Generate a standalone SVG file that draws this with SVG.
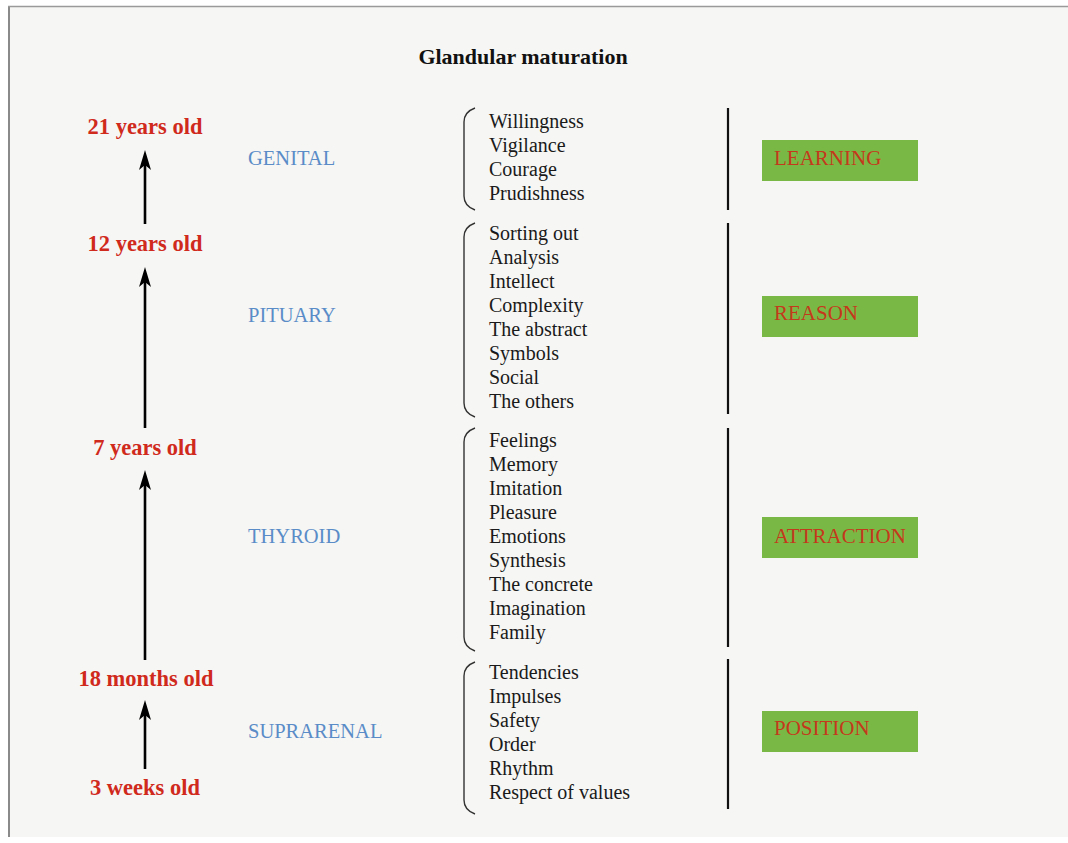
<svg xmlns="http://www.w3.org/2000/svg" width="1068" height="843" viewBox="0 0 1068 843">
<defs>
<style>
.page{fill:#f6f6f4}
.title{font-family:"Liberation Serif",serif;font-weight:bold;font-size:22px;fill:#111}
.age{font-family:"Liberation Serif",serif;font-weight:bold;font-size:22.5px;fill:#d02a1c;text-anchor:middle}
.gland{font-family:"Liberation Serif",serif;font-size:20.5px;fill:#5a8cc8}
.item{font-family:"Liberation Serif",serif;font-size:20px;fill:#1a1a1a}
.brk{fill:none;stroke:#333;stroke-width:1.4}
.vline{stroke:#111;stroke-width:2.2}
.box{fill:#7ab845}
.boxtxt{font-family:"Liberation Serif",serif;font-size:21px;fill:#c4381c}
.arr{stroke:#000;stroke-width:2.6;fill:none}
</style>
<marker id="ah" viewBox="0 0 20 12" refX="10" refY="6" markerWidth="20" markerHeight="12" markerUnits="userSpaceOnUse" orient="auto">
<path d="M0,0 L20,6 L0,12 L5,6 z" fill="#000"/>
</marker>
</defs>
<rect x="0" y="0" width="1068" height="843" fill="#ffffff"/>
<rect class="page" x="9" y="7" width="1059" height="830"/>
<line x1="9" y1="6" x2="9" y2="837" stroke="#8a8a8a" stroke-width="2"/>
<line x1="8" y1="6.5" x2="1068" y2="6.5" stroke="#9a9a9a" stroke-width="1.5"/>

<text class="title" x="523" y="64" text-anchor="middle" font-family="'Liberation Serif', serif">Glandular maturation</text>

<g id="connectors">
<line class="arr" x1="145" y1="224" x2="145" y2="160" marker-end="url(#ah)"/>
<line class="arr" x1="145" y1="428" x2="145" y2="277" marker-end="url(#ah)"/>
<line class="arr" x1="145" y1="660" x2="145" y2="480" marker-end="url(#ah)"/>
<line class="arr" x1="145" y1="769" x2="145" y2="710" marker-end="url(#ah)"/>
</g>

<g id="ages">
<text class="age" x="145" y="134">21 years old</text>
<text class="age" x="145" y="251">12 years old</text>
<text class="age" x="145" y="455">7 years old</text>
<text class="age" x="146" y="686">18 months old</text>
<text class="age" x="145" y="795">3 weeks old</text>
</g>

<g id="genital">
<text class="gland" x="248" y="165">GENITAL</text>
<path class="brk" d="M475,108 Q464,112 464,122 L464,196 Q464,206 475,210"/>
<text class="item" x="489" y="128">Willingness</text>
<text class="item" x="489" y="152">Vigilance</text>
<text class="item" x="489" y="176">Courage</text>
<text class="item" x="489" y="200">Prudishness</text>
<line class="vline" x1="728" y1="108" x2="728" y2="210"/>
<rect class="box" x="762" y="140" width="156" height="41"/>
<text class="boxtxt" x="774" y="165">LEARNING</text>
</g>

<g id="pituary">
<text class="gland" x="248" y="322">PITUARY</text>
<path class="brk" d="M475,223 Q464,227 464,237 L464,403 Q464,413 475,417"/>
<text class="item" x="489" y="240">Sorting out</text>
<text class="item" x="489" y="264">Analysis</text>
<text class="item" x="489" y="288">Intellect</text>
<text class="item" x="489" y="312">Complexity</text>
<text class="item" x="489" y="336">The abstract</text>
<text class="item" x="489" y="360">Symbols</text>
<text class="item" x="489" y="384">Social</text>
<text class="item" x="489" y="408">The others</text>
<line class="vline" x1="728" y1="223" x2="728" y2="414"/>
<rect class="box" x="762" y="296" width="156" height="41"/>
<text class="boxtxt" x="774" y="320">REASON</text>
</g>

<g id="thyroid">
<text class="gland" x="248" y="543">THYROID</text>
<path class="brk" d="M475,428 Q464,432 464,442 L464,637 Q464,647 475,651"/>
<text class="item" x="489" y="447">Feelings</text>
<text class="item" x="489" y="471">Memory</text>
<text class="item" x="489" y="495">Imitation</text>
<text class="item" x="489" y="519">Pleasure</text>
<text class="item" x="489" y="543">Emotions</text>
<text class="item" x="489" y="567">Synthesis</text>
<text class="item" x="489" y="591">The concrete</text>
<text class="item" x="489" y="615">Imagination</text>
<text class="item" x="489" y="639">Family</text>
<line class="vline" x1="728" y1="428" x2="728" y2="647"/>
<rect class="box" x="762" y="517" width="156" height="41"/>
<text class="boxtxt" x="774" y="543">ATTRACTION</text>
</g>

<g id="suprarenal">
<text class="gland" x="248" y="738">SUPRARENAL</text>
<path class="brk" d="M475,662 Q464,666 464,676 L464,800 Q464,810 475,814"/>
<text class="item" x="489" y="679">Tendencies</text>
<text class="item" x="489" y="703">Impulses</text>
<text class="item" x="489" y="727">Safety</text>
<text class="item" x="489" y="751">Order</text>
<text class="item" x="489" y="775">Rhythm</text>
<text class="item" x="489" y="799">Respect of values</text>
<line class="vline" x1="728" y1="659" x2="728" y2="809"/>
<rect class="box" x="762" y="711" width="156" height="41"/>
<text class="boxtxt" x="774" y="735">POSITION</text>
</g>
</svg>
